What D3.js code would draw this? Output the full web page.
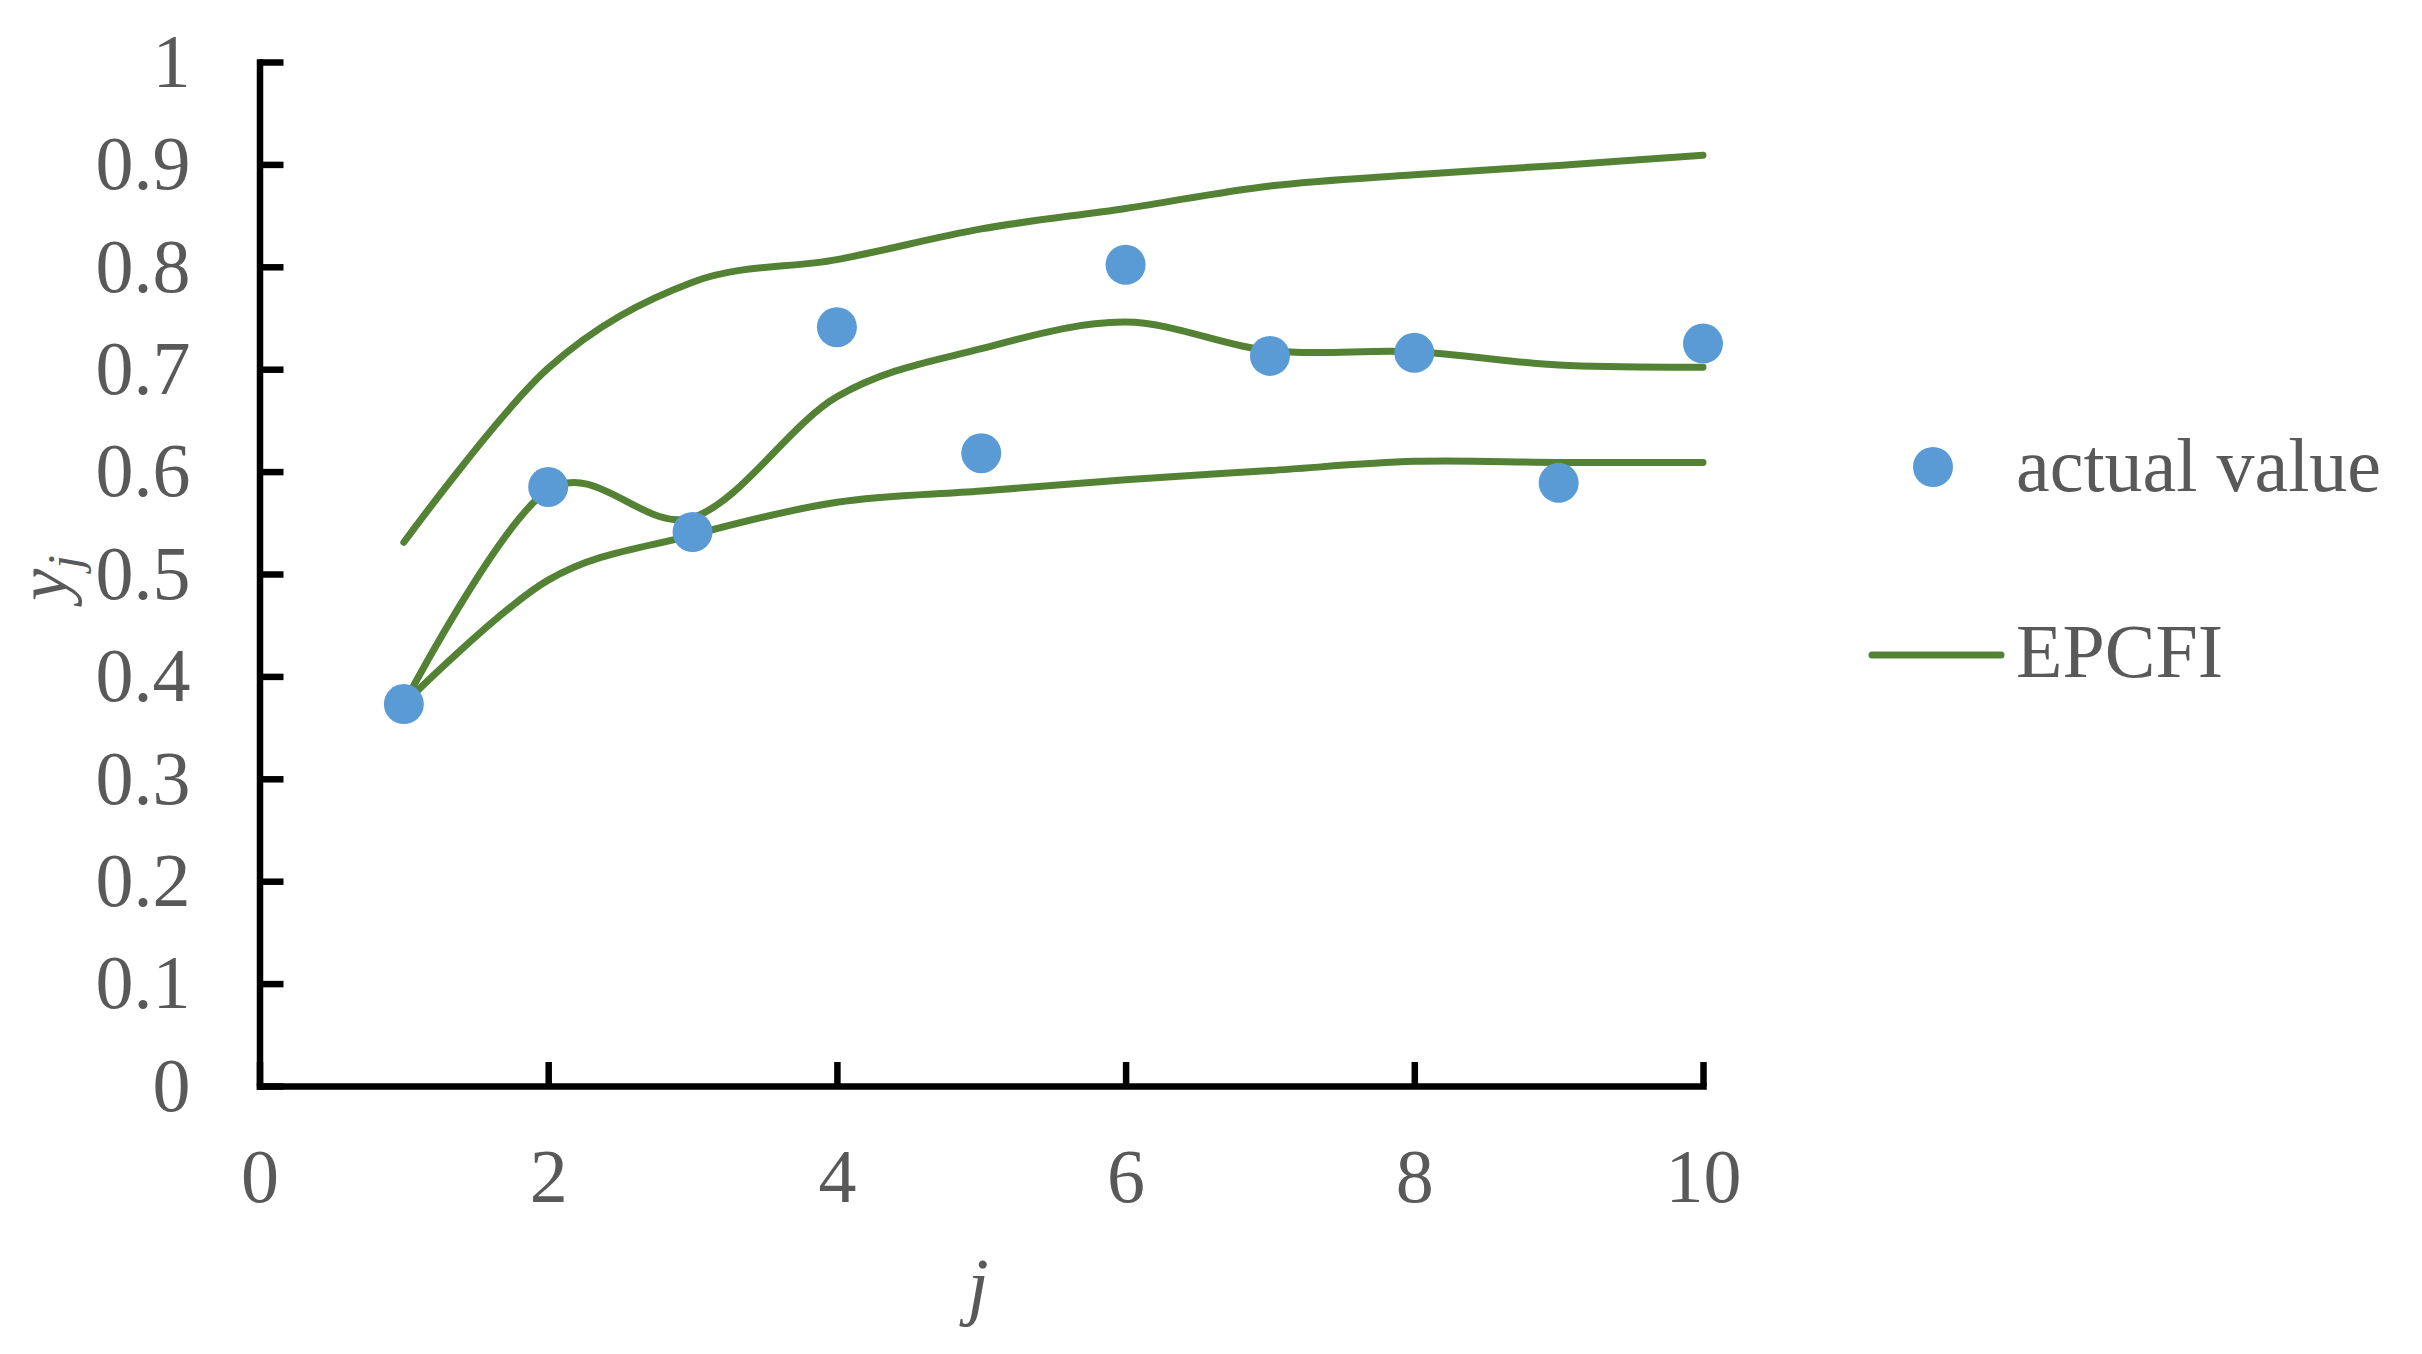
<!DOCTYPE html>
<html>
<head>
<meta charset="utf-8">
<script src="https://cdn.jsdelivr.net/npm/d3@7"></script>
<style>
  body { margin: 0; background: #fff; }
  svg { display: block; }
</style>
</head>
<body>
<div id="chart"></div>
<script>
// values
const js = [1, 2, 3, 4, 5, 6, 7, 8, 9, 10];
const actualValue = [0.373, 0.585, 0.541, 0.741, 0.618, 0.802, 0.713, 0.716, 0.589, 0.725];
const epcfiUpper = [0.531, 0.701, 0.785, 0.807, 0.837, 0.857, 0.879, 0.890, 0.899, 0.909];
const epcfiMiddle = [0.373, 0.582, 0.555, 0.673, 0.720, 0.746, 0.718, 0.717, 0.704, 0.702];
const epcfiLower = [0.373, 0.494, 0.538, 0.570, 0.581, 0.592, 0.601, 0.610, 0.609, 0.609];
const xTicks = [0, 2, 4, 6, 8, 10];
const yTicks = [0, 0.1, 0.2, 0.3, 0.4, 0.5, 0.6, 0.7, 0.8, 0.9, 1];
const legendLabels = ["actual value", "EPCFI"];

const width = 2422, height = 1354;
const green = "#548235", blue = "#5B9BD5", grey = "#595959";
const font = "'Liberation Serif', 'Times New Roman', serif";

const svg = d3.select("#chart")
  .append("svg")
  .attr("width", width)
  .attr("height", height)
  .style("font-family", font);

svg.append("rect").attr("width", width).attr("height", height).attr("fill", "#fff");

const x = d3.scaleLinear().domain([0, 10]).range([259.5, 1703]);
const y = d3.scaleLinear().domain([0, 1]).range([1086, 62]);

// axes, ticks pointing inward
const xAxis = svg.append("g")
  .attr("transform", `translate(0,${y(0)})`)
  .call(d3.axisBottom(x).tickValues(xTicks).tickSizeInner(-24).tickSizeOuter(0).tickPadding(62));

const yAxis = svg.append("g")
  .attr("transform", `translate(${x(0)},0)`)
  .call(d3.axisLeft(y).tickValues(yTicks).tickSizeInner(-24).tickSizeOuter(0).tickPadding(69)
    .tickFormat(d => String(+d.toFixed(1))));

[xAxis, yAxis].forEach(ax => {
  ax.select(".domain").attr("stroke", "#000").attr("stroke-width", 6.5).attr("stroke-linecap", "square");
  ax.selectAll(".tick line").attr("stroke", "#000").attr("stroke-width", 6.5);
  ax.selectAll(".tick text")
    .attr("fill", grey)
    .style("font-family", font)
    .style("font-size", "76px");
});

// smoothed EPCFI curves
const line = d3.line()
  .x((d, i) => x(js[i]))
  .y(d => y(d))
  .curve(d3.curveCardinal.tension(0));

svg.selectAll(".epcfi")
  .data([epcfiUpper, epcfiMiddle, epcfiLower])
  .enter()
  .append("path")
  .attr("class", "epcfi")
  .attr("d", line)
  .attr("fill", "none")
  .attr("stroke", green)
  .attr("stroke-width", 7)
  .attr("stroke-linecap", "round")
  .attr("stroke-linejoin", "round");

// actual values
svg.selectAll(".dot")
  .data(actualValue)
  .enter()
  .append("circle")
  .attr("class", "dot")
  .attr("cx", (d, i) => x(js[i]))
  .attr("cy", d => y(d))
  .attr("r", 20)
  .attr("fill", blue);

// axis titles
svg.append("text")
  .attr("x", 978)
  .attr("y", 1311)
  .attr("text-anchor", "middle")
  .attr("fill", grey)
  .style("font-size", "76px")
  .style("font-style", "italic")
  .text("j");

const yTitle = svg.append("text")
  .attr("transform", "translate(67,578) rotate(-90)")
  .attr("text-anchor", "middle")
  .attr("fill", grey)
  .style("font-size", "72px")
  .style("font-style", "italic");
yTitle.append("tspan").text("y");
yTitle.append("tspan").attr("dy", 14).style("font-size", "48px").text("j");

// legend
const legend = svg.append("g");
legend.append("circle")
  .attr("cx", 1933).attr("cy", 467).attr("r", 20)
  .attr("fill", blue);
legend.append("line")
  .attr("x1", 1872).attr("x2", 2001)
  .attr("y1", 655).attr("y2", 655)
  .attr("stroke", green).attr("stroke-width", 7)
  .attr("stroke-linecap", "round");
legend.selectAll(".legend-label")
  .data(legendLabels)
  .enter()
  .append("text")
  .attr("class", "legend-label")
  .attr("x", 2016)
  .attr("y", (d, i) => i === 0 ? 491 : 677)
  .attr("fill", grey)
  .style("font-size", "76px")
  .text(d => d);
</script>
</body>
</html>
